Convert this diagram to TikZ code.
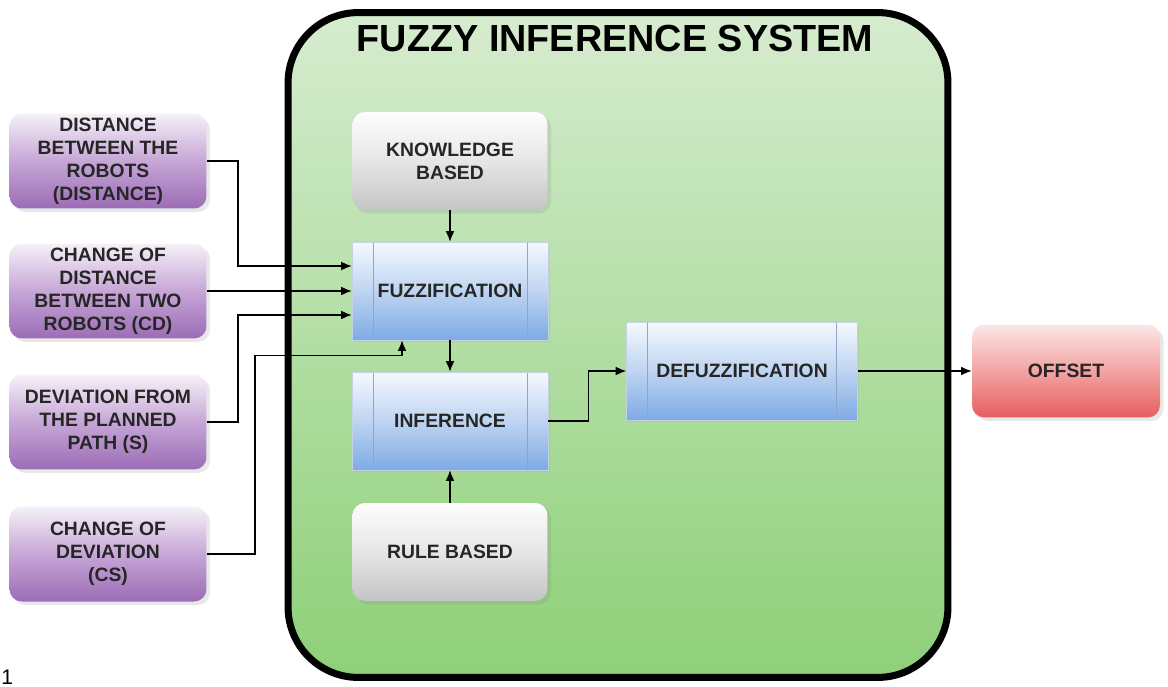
\documentclass[tikz,border=0pt]{standalone}
\usepackage{fontspec}
\setmainfont{Liberation Sans}
\usepackage{tikz}
\usetikzlibrary{arrows.meta, positioning, shadows}

\definecolor{purpTop}{HTML}{F6F1F8}
\definecolor{purpMid}{HTML}{C6A6D6}
\definecolor{purpBot}{HTML}{9C6CB6}
\definecolor{grayTop}{HTML}{FDFDFD}
\definecolor{grayMid}{HTML}{E6E6E6}
\definecolor{grayBot}{HTML}{C4C4C4}
\definecolor{blueTop}{HTML}{F5F9FE}
\definecolor{blueMid}{HTML}{BED4F1}
\definecolor{blueBot}{HTML}{7EABE4}
\definecolor{blueLine}{HTML}{8CA6C8}
\definecolor{redTop}{HTML}{FBE7E7}
\definecolor{redMid}{HTML}{F3A3A3}
\definecolor{redBot}{HTML}{E65E5E}
\definecolor{fisTop}{HTML}{D6ECCF}
\definecolor{fisBot}{HTML}{8ED078}
\definecolor{txt}{HTML}{262626}

\begin{document}
\begin{tikzpicture}[
  x=0.02cm, y=-0.02cm,
  font=\fontsize{11}{13}\selectfont\bfseries,
  box/.style={rounded corners=7pt, inner sep=0pt, align=center, text=txt,
    drop shadow={opacity=0.18, shadow xshift=2pt, shadow yshift=-2pt}},
  inbox/.style={box, minimum width=3.94cm, minimum height=1.9cm,
    top color=purpTop, bottom color=purpBot, middle color=purpMid},
  kbox/.style={box, minimum width=3.9cm, minimum height=1.96cm,
    top color=grayTop, bottom color=grayBot, middle color=grayMid},
  proc/.style={inner sep=0pt, align=center, text=txt, draw=blueLine!50, line width=0.3pt,
    top color=blueTop, bottom color=blueBot, middle color=blueMid,
    drop shadow={opacity=0.12, shadow xshift=1pt, shadow yshift=-1pt},
    path picture={
      \draw[blueLine, line width=0.4pt]
        ([xshift=0.42cm]path picture bounding box.north west) -- ([xshift=0.42cm]path picture bounding box.south west)
        ([xshift=-0.42cm]path picture bounding box.north east) -- ([xshift=-0.42cm]path picture bounding box.south east);
    }},
  arr/.style={-{Latex[length=6pt, width=5pt]}, line width=0.8pt}
]
  \useasboundingbox (0,0) rectangle (1168,686);

  % container
  \node[draw=black, line width=4pt, rounded corners=40pt, inner sep=0pt,
        top color=fisTop, bottom color=fisBot,
        minimum width=13.2cm, minimum height=13.3cm] (fis) at (618,345) {};
  \node[font=\fontsize{21.5}{24}\selectfont\bfseries, text=black] (title) at (615,38) {FUZZY INFERENCE SYSTEM};

  % inputs
  \node[inbox] (dist) at (108,161) {DISTANCE\\BETWEEN THE\\ROBOTS\\(DISTANCE)};
  \node[inbox] (cdist) at (108,291) {CHANGE OF\\DISTANCE\\BETWEEN TWO\\ROBOTS (CD)};
  \node[inbox] (dev) at (108,422) {DEVIATION FROM\\THE PLANNED\\PATH (S)};
  \node[inbox] (cdev) at (108,554) {CHANGE OF\\DEVIATION\\(CS)};

  % inside
  \node[kbox] (know) at (450,161) {KNOWLEDGE\\BASED};
  \node[proc, minimum width=3.92cm, minimum height=1.96cm] (fuzz) at (450,291) {FUZZIFICATION};
  \node[proc, minimum width=3.92cm, minimum height=1.96cm] (inf) at (450,421) {INFERENCE};
  \node[kbox] (rule) at (450,552) {RULE BASED};
  \node[proc, minimum width=4.62cm, minimum height=1.96cm] (defuzz) at (742,371) {DEFUZZIFICATION};

  % output
  \node[box, minimum width=3.76cm, minimum height=1.86cm,
        top color=redTop, bottom color=redBot, middle color=redMid] (offset) at (1066,371) {OFFSET};

  \node[font=\fontsize{12}{12}\selectfont, anchor=base west, inner sep=0pt] (fignum) at (1,684) {1};

  % wires
  \draw[arr] (dist.east) -- ++(31,0) |- ([yshift=0.5cm]fuzz.west);
  \draw[arr] (cdist.east) -- (fuzz.west);
  \draw[arr] (dev.east) -- ++(31,0) |- ([yshift=-0.48cm]fuzz.west);
  \draw[arr] (cdev.east) -- ++(48,0) |- ([xshift=-0.96cm, yshift=-0.3cm]fuzz.south) -- ([xshift=-0.96cm]fuzz.south);
  \draw[arr] (know) -- (fuzz);
  \draw[arr] (fuzz) -- (inf);
  \draw[arr] (rule) -- (inf);
  \draw[arr] (inf.east) -- ++(40,0) |- (defuzz.west);
  \draw[arr] (defuzz) -- (offset);
\end{tikzpicture}
\end{document}
